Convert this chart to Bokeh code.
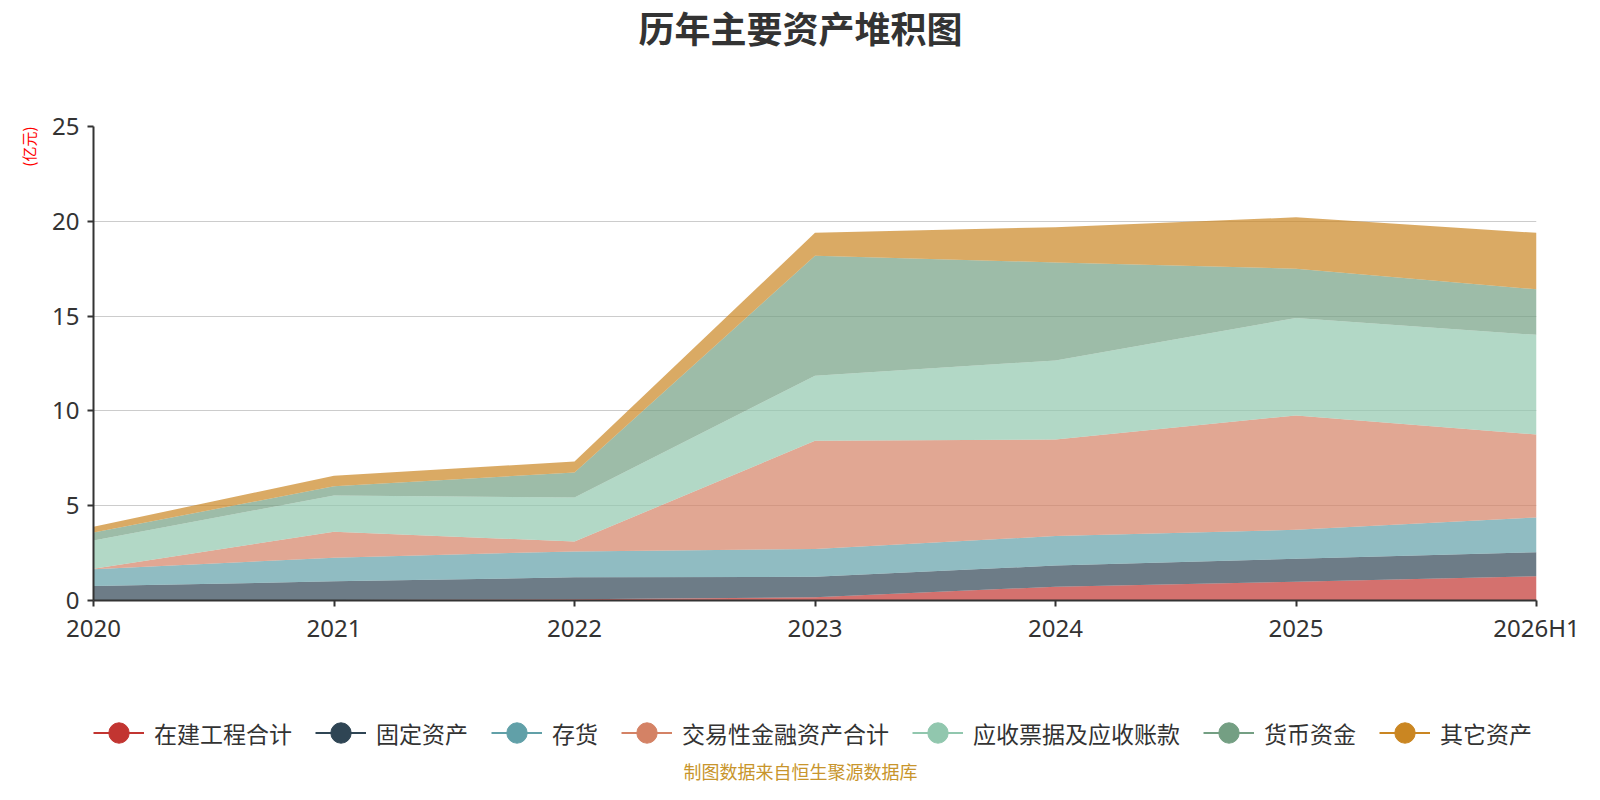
from bokeh.plotting import figure
from bokeh.layouts import column
from bokeh.models import (ColumnDataSource, Range1d, FixedTicker, Title, Legend, LegendItem, Label)
from bokeh.embed import file_html
from bokeh.resources import INLINE

# ---- data (亿元) ----
categories = ["2020", "2021", "2022", "2023", "2024", "2025", "2026H1"]
series_names = ["在建工程合计", "固定资产", "存货", "交易性金融资产合计", "应收票据及应收账款", "货币资金", "其它资产"]
zaijian = [0.02, 0.03, 0.06, 0.17, 0.73, 0.99, 1.28]
guding = [0.74, 0.98, 1.16, 1.08, 1.11, 1.21, 1.27]
cunhuo = [0.89, 1.25, 1.37, 1.46, 1.56, 1.53, 1.83]
jiaoyi = [0.03, 1.37, 0.52, 5.71, 5.09, 6.03, 4.37]
yingshou = [1.48, 1.91, 2.32, 3.44, 4.17, 5.14, 5.26]
huobi = [0.43, 0.48, 1.32, 6.32, 5.17, 2.60, 2.40]
qita = [0.30, 0.56, 0.58, 1.21, 1.86, 2.71, 2.98]
y_ticks = [0, 5, 10, 15, 20, 25]
colors = ["#c23531", "#2f4554", "#61a0a8", "#d48265", "#91c7ae", "#749f83", "#ca8622"]

keys = ["s0", "s1", "s2", "s3", "s4", "s5", "s6"]
xs = list(range(len(categories)))
data = {"x": xs}
for k, v in zip(keys, [zaijian, guding, cunhuo, jiaoyi, yingshou, huobi, qita]):
    data[k] = v
source = ColumnDataSource(data)

W = 1584
H_MAIN, H_LEG = 650, 134

# ================= main chart =================
p = figure(width=W, height=H_MAIN, output_backend="svg", toolbar_location=None,
           x_range=Range1d(0, len(categories) - 1), y_range=Range1d(0, 25),
           min_border_left=93, min_border_right=48, min_border_top=120, min_border_bottom=50)
p.outline_line_color = None
p.background_fill_color = "white"
p.border_fill_color = "white"

p.varea_stack(stackers=keys, x="x", color=colors, fill_alpha=0.7, source=source)

p.xaxis.ticker = FixedTicker(ticks=xs)
p.xaxis.major_label_overrides = {i: c for i, c in enumerate(categories)}
p.yaxis.ticker = FixedTicker(ticks=y_ticks)
for ax in (p.xaxis, p.yaxis):
    ax.axis_line_color = "#333333"
    ax.axis_line_width = 2
    ax.major_tick_line_color = "#333333"
    ax.major_tick_line_width = 2
    ax.major_tick_out = 6
    ax.major_tick_in = 0
    ax.minor_tick_line_color = None
    ax.major_label_text_font_size = "24px"
    ax.major_label_text_color = "#333333"
    ax.major_label_text_font = "Noto Sans"
p.xaxis.major_label_standoff = 4
p.yaxis.major_label_standoff = 8
p.xgrid.grid_line_color = None
p.ygrid.grid_line_color = "#cccccc"
p.ygrid.grid_line_width = 1

# above: spacer (nearest frame) then main title
p.add_layout(Title(text=" ", text_font_size="1px", standoff=69), "above")
p.add_layout(Title(text="历年主要资产堆积图", text_font="Noto Sans CJK SC", text_font_size="36px",
                   text_font_style="bold", text_color="#333333", align="left", offset=545,
                   vertical_align="top", standoff=0), "above")

# left: unit label
p.add_layout(Title(text="(亿元)", text_font="Noto Sans CJK SC", text_font_size="15px",
                   text_font_style="normal", text_color="#ff0000", align="right",
                   vertical_align="middle", standoff=20), "left")

# ================= legend + footer strip =================
q = figure(width=W, height=H_LEG, output_backend="svg", toolbar_location=None,
           x_range=Range1d(0, 1), y_range=Range1d(0, 1),
           x_axis_type=None, y_axis_type=None,
           min_border_left=0, min_border_right=0, min_border_top=0, min_border_bottom=0)
q.outline_line_color = None
q.background_fill_color = "white"
q.border_fill_color = "white"
q.xgrid.grid_line_color = None
q.ygrid.grid_line_color = None

items = []
for name, c in zip(series_names, colors):
    lr = q.line(x=[0, 1], y=[-100, -100], line_color=c, line_width=2)
    sr = q.scatter(x=[0], y=[-100], marker="circle", size=20, fill_color=c, line_color=c)
    items.append(LegendItem(label=name, renderers=[lr, sr]))
legend = Legend(items=items, orientation="horizontal", nrows=1, location=(0, 26),
                glyph_width=51, glyph_height=51, label_standoff=10, spacing=23,
                padding=0, margin=0, border_line_color=None, background_fill_alpha=0,
                label_text_font="Noto Sans CJK SC", label_text_font_size="23px",
                label_text_color="#333333", label_height=30)
q.add_layout(legend, "center")

q.add_layout(Label(x=707, y=14, x_units="screen", y_units="screen", text="制图数据来自恒生聚源数据库",
                   text_font="Noto Sans CJK SC", text_font_size="18px",
                   text_color="#c8952c", text_align="center", text_baseline="middle"))

layout = column(p, q, spacing=0)
open("out.html", "w").write(file_html(layout, INLINE))
